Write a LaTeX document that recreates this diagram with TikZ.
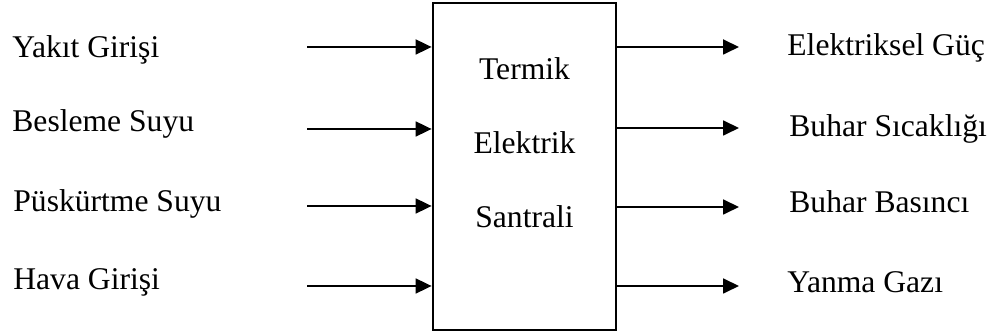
\documentclass[tikz,border=0pt]{standalone}
\usepackage{fontspec}
\setmainfont{Liberation Serif}
\usetikzlibrary{arrows.meta}

\begin{document}
\begin{tikzpicture}[x=0.5pt, y=-0.5pt]
    % styles
    \tikzset{
      plantbox/.style  = {draw=black, line width=1.4pt, minimum width=91.5pt,
                          minimum height=163.5pt, inner sep=0pt},
      label/.style     = {anchor=base west, inner sep=0pt,
                          font=\fontsize{15.8}{18}\selectfont},
      boxtext/.style   = {anchor=base, inner sep=0pt,
                          font=\fontsize{15.8}{18}\selectfont},
      flowarrow/.style = {-{Triangle[length=8pt, width=7.5pt]}, line width=0.9pt, draw=black}
    }
    \useasboundingbox (0,0) rectangle (996,335);

    % Plant block:
    \node[plantbox] (plant) at (524.5,166.5) {};
    \node[boxtext] (termik)   at (524.5, 80) {Termik};
    \node[boxtext] (elektrik) at (524.5,154) {Elektrik};
    \node[boxtext] (santral)  at (524.5,228) {Santrali};

    % Inputs:
    \coordinate (yakit)   at (307, 47);
    \coordinate (besleme) at (307,129);
    \coordinate (puskurt) at (307,206);
    \coordinate (hava)    at (307,286);
    \draw[flowarrow] (yakit)   -- (yakit -| plant.west);
    \draw[flowarrow] (besleme) -- (besleme -| plant.west);
    \draw[flowarrow] (puskurt) -- (puskurt -| plant.west);
    \draw[flowarrow] (hava)    -- (hava -| plant.west);

    \node[label] (yakitlbl)   at (12, 58) {Yakıt Girişi};
    \node[label] (beslemelbl) at (12,132) {Besleme Suyu};
    \node[label] (puskurtlbl) at (13,212) {Püskürtme Suyu};
    \node[label] (havalbl)    at (13,290) {Hava Girişi};

    % Outputs:
    \coordinate (guc)     at (739, 47);
    \coordinate (sicak)   at (739,128);
    \coordinate (basinc)  at (739,207);
    \coordinate (gaz)     at (739,286);
    \draw[flowarrow] (guc -| plant.east)    -- (guc);
    \draw[flowarrow] (sicak -| plant.east)  -- (sicak);
    \draw[flowarrow] (basinc -| plant.east) -- (basinc);
    \draw[flowarrow] (gaz -| plant.east)    -- (gaz);

    \node[label] (guclbl)    at (787, 56) {Elektriksel Güç};
    \node[label] (sicaklbl)  at (789,137) {Buhar Sıcaklığı};
    \node[label] (basinclbl) at (789,213) {Buhar Basıncı};
    \node[label] (gazlbl)    at (787,293) {Yanma Gazı};
\end{tikzpicture}
\end{document}
